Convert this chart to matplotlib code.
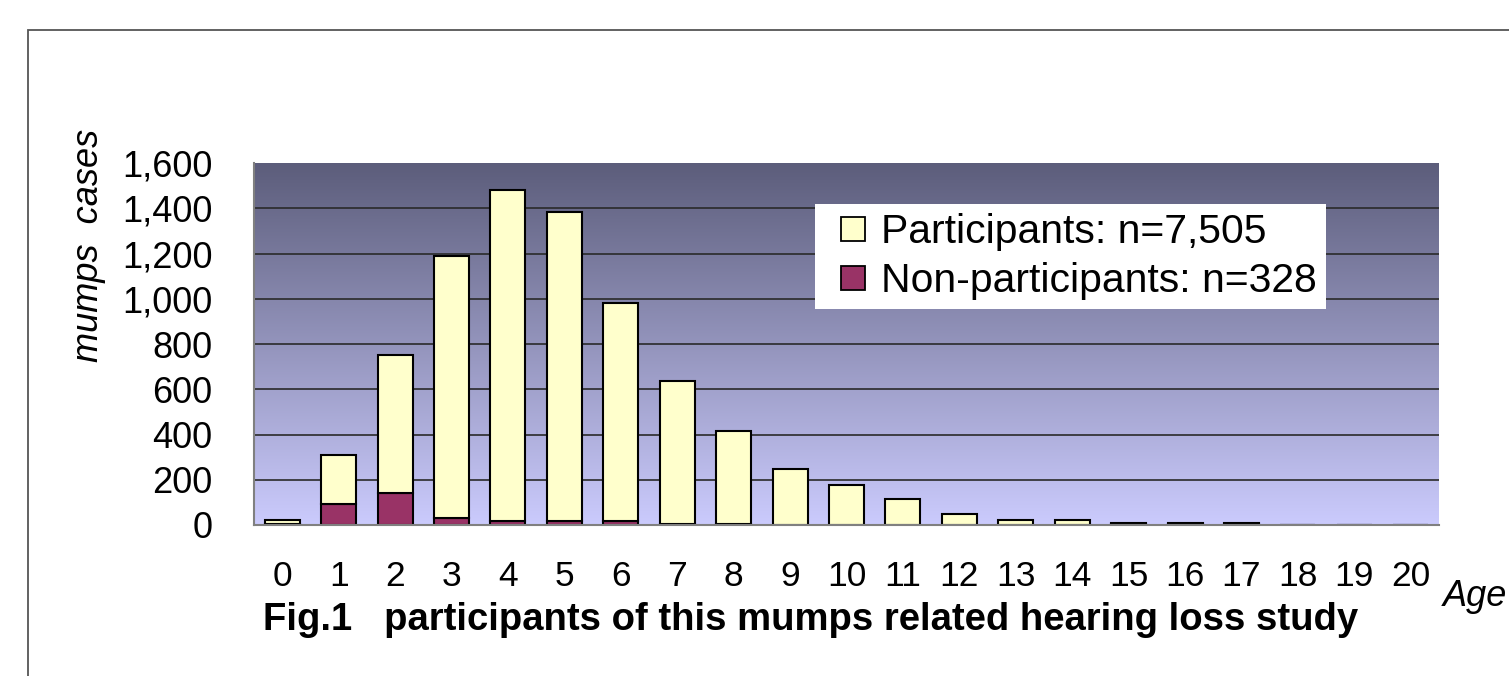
import matplotlib
matplotlib.use("Agg")
import matplotlib.pyplot as plt
import numpy as np
from matplotlib.colors import LinearSegmentedColormap
from matplotlib.patches import Rectangle
from matplotlib.lines import Line2D

ages = [str(a) for a in range(21)]
participants = [18, 215, 613, 1157, 1462, 1365, 964, 633, 409, 246, 177, 115, 47, 23, 23, 5, 5, 5, 0, 0, 0]
non_participants = [5, 93, 140, 32, 18, 18, 18, 5, 5, 0, 0, 0, 0, 0, 0, 3, 3, 3, 0, 0, 0]
yticks = [0, 200, 400, 600, 800, 1000, 1200, 1400, 1600]
legend_labels = ["Participants: n=7,505", "Non-participants: n=328"]

plt.rcParams['font.family'] = ['Liberation Sans', 'DejaVu Sans']

fig = plt.figure(figsize=(15.09, 6.76), dpi=100)
fig.patch.set_facecolor('white')

# outer frame
fig.patches.append(Rectangle((28/1509, -0.2), 1.2, 0.2 + (1 - 30/676),
                             transform=fig.transFigure, fill=False,
                             edgecolor='#555555', linewidth=1.3, zorder=0))

ax = fig.add_axes([254/1509, 1 - 525/676, (1439-254)/1509, (525-163)/676])

x = np.arange(len(ages))
ax.set_xlim(-0.5, len(ages) - 0.5)
ax.set_ylim(0, 1600)

# gradient background
cmap = LinearSegmentedColormap.from_list('bg', ['#cbcbfd', '#5c5d7b'])
grad = np.linspace(0, 1, 256).reshape(-1, 1)
ax.imshow(grad, aspect='auto', cmap=cmap, origin='lower',
          extent=(-0.5, len(ages) - 0.5, 0, 1600), zorder=0)

for yv in yticks[1:-1]:
    ax.axhline(yv, color='#2a2a2a', linewidth=1.2, zorder=1)

w = 0.62
c_part, c_non = '#ffffcc', '#993366'
ax.bar(x, non_participants, w, color=c_non, edgecolor='black', linewidth=1.5, zorder=2)
ax.bar(x, participants, w, bottom=non_participants, color=c_part, edgecolor='black',
       linewidth=1.5, zorder=2)

ax.set_xticks(x)
ax.set_xticklabels(ages)
ax.set_yticks(yticks)
ax.set_yticklabels([f"{v:,}" for v in yticks])
ax.tick_params(axis='x', length=0, pad=25, labelsize=25.5)
ax.tick_params(axis='y', length=0, pad=30, labelsize=26)

for s in ['top', 'right']:
    ax.spines[s].set_visible(False)
for s in ['left', 'bottom']:
    ax.spines[s].set_color('#808080')
    ax.spines[s].set_linewidth(1.5)
    ax.spines[s].set_zorder(3)

handles = [Line2D([], [], linestyle='none', marker='s', markersize=17.5,
                  markerfacecolor=c, markeredgecolor='black', markeredgewidth=1.3)
           for c in (c_part, c_non)]
leg = ax.legend(handles, legend_labels, loc='upper left',
                bbox_to_anchor=((815-254)/1185, (525-204)/362),
                fontsize=29.4, frameon=True, fancybox=False, framealpha=1,
                edgecolor='white', handlelength=1.4, handleheight=0.7,
                handletextpad=0.0, borderpad=0.22, labelspacing=0.28,
                borderaxespad=0)
leg.get_frame().set_linewidth(0)

fig.text(88/1509, 1 - 245/676, 'mumps  cases', rotation=90, style='italic',
         fontsize=26, ha='center', va='center')
fig.text(1443/1509, 1 - 597/676, 'Age', style='italic', fontsize=26,
         ha='left', va='center')
fig.text(263/1509, 1 - 620/676, 'Fig.1   participants of this mumps related hearing loss study',
         fontsize=27.5, fontweight='bold', ha='left', va='center')

fig.savefig('out.png', dpi=100)
